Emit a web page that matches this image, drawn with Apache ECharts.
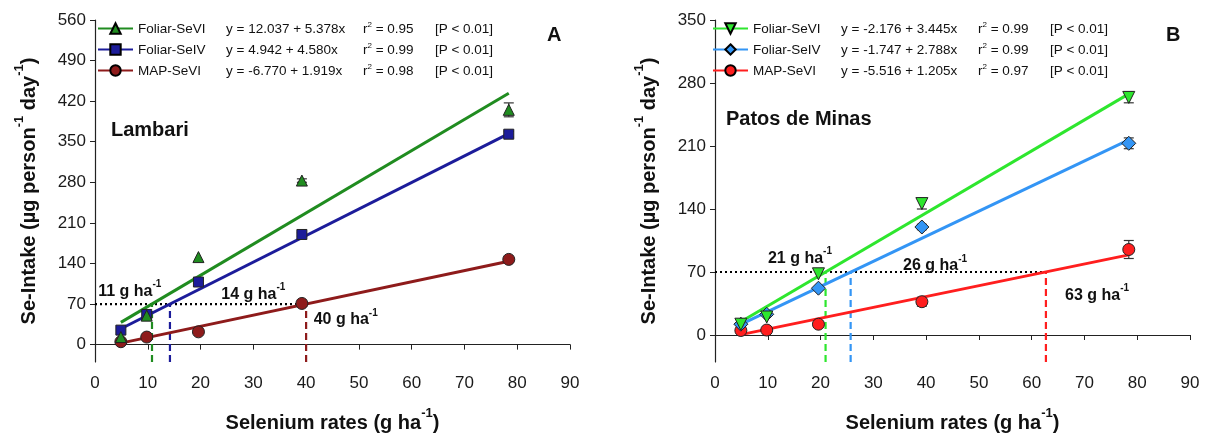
<!DOCTYPE html>
<html>
<head>
<meta charset="utf-8">
<script src="https://cdn.jsdelivr.net/npm/echarts@6/dist/echarts.min.js"></script>
<style>html,body{margin:0;padding:0;background:#fff;}#c{width:1214px;height:439px;}</style>
</head>
<body>
<div id="c"></div>
<script>
// ---------- DATA ----------
const rates = [4.9, 9.8, 19.6, 39.2, 78.4];
const xTicks = [0, 10, 20, 30, 40, 50, 60, 70, 80, 90];
const yTicksA = [0, 70, 140, 210, 280, 350, 420, 490, 560];
const yTicksB = [0, 70, 140, 210, 280, 350];

// Panel A - Lambari
const lamFoliarSeVI = [13, 50, 151, 283, 405];
const lamFoliarSeVIErr = [0, 0, 0, 3, 12];
const lamFoliarSeIV = [25, 52, 108, 190, 363];
const lamFoliarSeIVErr = [0, 0, 3, 3, 5];
const lamMapSeVI = [5, 13, 22, 71, 147];
const lamMapSeVIErr = [0, 0, 0, 3, 0];
const lamFitFoliarSeVI = [[4.9, 38.4], [78.4, 433.7]];
const lamFitFoliarSeIV = [[4.9, 27.4], [78.4, 364.0]];
const lamFitMapSeVI = [[4.9, 2.6], [78.4, 143.7]];
const lamThresholdRates = [10.8, 14.2, 40.0];
const lamThresholdLabels = ['11', '14', '40'];
const lamEquations = ['y = 12.037 + 5.378x', 'y = 4.942 + 4.580x', 'y = -6.770 + 1.919x'];
const lamR2 = ['0.95', '0.99', '0.98'];

// Panel B - Patos de Minas
const patFoliarSeVI = [12, 20, 68, 146, 264];
const patFoliarSeVIErr = [0, 0, 0, 6, 6];
const patFoliarSeIV = [12, 23, 52, 120, 213];
const patFoliarSeIVErr = [0, 0, 0, 3, 6];
const patMapSeVI = [5, 5.5, 12, 37, 95];
const patMapSeVIErr = [0, 0, 0, 5, 10];
const patFitFoliarSeVI = [[4.9, 14.7], [78.4, 267.9]];
const patFitFoliarSeIV = [[4.9, 11.9], [78.4, 216.8]];
const patFitMapSeVI = [[4.9, 0.4], [78.4, 89.0]];
const patThresholdRates = [20.95, 25.7, 62.7];
const patThresholdLabels = ['21', '26', '63'];
const patEquations = ['y = -2.176 + 3.445x', 'y = -1.747 + 2.788x', 'y = -5.516 + 1.205x'];
const patR2 = ['0.99', '0.99', '0.97'];

const seriesNames = ['Foliar-SeVI', 'Foliar-SeIV', 'MAP-SeVI'];
const threshold = 70;
const yMin = -30;

// ---------- STYLE / LAYOUT ----------
const FONT = '"Liberation Sans", Arial, sans-serif';
const colA = ['#208C20', '#1C1C9A', '#8E1B1B'];
const colB = ['#2EE62E', '#3395F5', '#FF1E1E'];
const symA = [['triangle', 0, 11], ['rect', 0, 10], ['circle', 0, 12]];
const symB = [['triangle', 180, 12], ['diamond', 0, 14], ['circle', 0, 12]];
// annotation anchor positions in data units [x, y]
const annoPosA = [[6.6, 95], [30, 90], [47.5, 46]];
const annoPosB = [[16.1, 87], [41.7, 79], [72.4, 46]];

const supRich = {
  b: {fontFamily: FONT, fontSize: 16, fontWeight: 'bold', color: '#111', lineHeight: 20, verticalAlign: 'bottom'},
  s: {fontFamily: FONT, fontSize: 10, fontWeight: 'bold', color: '#111', lineHeight: 11, verticalAlign: 'top'}
};
const titleRich = {
  t: {fontFamily: FONT, fontSize: 20, fontWeight: 'bold', color: '#111', lineHeight: 26, verticalAlign: 'bottom'},
  s: {fontFamily: FONT, fontSize: 13, fontWeight: 'bold', color: '#111', lineHeight: 13, verticalAlign: 'top'}
};

function legendFormatter(equations, r2) {
  return function (name) {
    const i = seriesNames.indexOf(name.split('|')[1]);
    return '{n|' + seriesNames[i] + '}{e|' + equations[i] + '}{r|r}{s|2}{q| = ' + r2[i] + '}{p|[P < 0.01]}';
  };
}
const legendRich = {
  n: {fontFamily: FONT, fontSize: 13.5, color: '#111', width: 88, lineHeight: 15, verticalAlign: 'bottom'},
  e: {fontFamily: FONT, fontSize: 13.5, color: '#111', width: 137, lineHeight: 15, verticalAlign: 'bottom'},
  r: {fontFamily: FONT, fontSize: 13.5, color: '#111', lineHeight: 15, verticalAlign: 'bottom'},
  s: {fontFamily: FONT, fontSize: 8, color: '#111', lineHeight: 9, verticalAlign: 'top'},
  q: {fontFamily: FONT, fontSize: 13.5, color: '#111', width: 63, lineHeight: 15, verticalAlign: 'bottom'},
  p: {fontFamily: FONT, fontSize: 13.5, color: '#111', lineHeight: 15, verticalAlign: 'bottom'}
};

function xAxis(gi) {
  return {
    type: 'value', gridIndex: gi, min: 0, max: 90, interval: 10,
    name: '{t|Selenium rates (g ha}{s|-1}{t|)}', nameLocation: 'middle', nameGap: 45,
    nameTextStyle: {rich: titleRich},
    axisLine: {show: true, lineStyle: {color: '#222', width: 1.2}},
    axisTick: {show: true, length: 5, lineStyle: {color: '#222'}},
    axisLabel: {fontFamily: FONT, fontSize: 17, color: '#1a1a1a', margin: 13,
      customValues: xTicks},
    splitLine: {show: false}
  };
}
function yAxis(gi, max, ticks) {
  return {
    type: 'value', gridIndex: gi, min: yMin, max: max,
    name: '{t|Se-Intake (µg person}{s|-1}{t| day}{s|-1}{t|)}', nameLocation: 'middle', nameGap: 56,
    nameRotate: 90,
    nameTextStyle: {rich: titleRich},
    axisLine: {show: true, onZero: false, lineStyle: {color: '#222', width: 1.2}},
    axisTick: {show: true, length: 5, lineStyle: {color: '#222'}, customValues: ticks},
    axisLabel: {fontFamily: FONT, fontSize: 17, color: '#1a1a1a', margin: 9, customValues: ticks},
    splitLine: {show: false}
  };
}

function fitSeries(gi, prefix, idx, data, color, sym) {
  return {
    type: 'line', name: prefix + '|' + seriesNames[idx], xAxisIndex: gi, yAxisIndex: gi,
    data: data, showSymbol: false, symbol: sym[0], symbolRotate: sym[1],
    lineStyle: {color: color, width: 3}, itemStyle: {color: color, borderColor: '#000', borderWidth: 1},
    silent: true, z: 3, animation: false
  };
}
function pointSeries(gi, vals, color, sym) {
  return {
    type: 'scatter', xAxisIndex: gi, yAxisIndex: gi,
    data: rates.map((x, i) => [x, vals[i]]),
    symbol: sym[0], symbolRotate: sym[1], symbolSize: sym[2],
    itemStyle: {color: color, borderColor: '#222', borderWidth: 1, opacity: 1},
    silent: true, z: 4, animation: false
  };
}
function errSeries(gi, vals, errs) {
  return {
    type: 'custom', xAxisIndex: gi, yAxisIndex: gi,
    data: rates.map((x, i) => [x, vals[i], errs[i]]),
    renderItem: function (params, api) {
      const e = api.value(2);
      if (!e) return null;
      const x = api.value(0), y = api.value(1);
      const t = api.coord([x, y + e]), b = api.coord([x, y - e]);
      const w = 5;
      const st = {stroke: '#333', lineWidth: 1.2};
      return {type: 'group', children: [
        {type: 'line', shape: {x1: t[0], y1: t[1], x2: b[0], y2: b[1]}, style: st},
        {type: 'line', shape: {x1: t[0] - w, y1: t[1], x2: t[0] + w, y2: t[1]}, style: st},
        {type: 'line', shape: {x1: b[0] - w, y1: b[1], x2: b[0] + w, y2: b[1]}, style: st}
      ]};
    },
    silent: true, z: 3, animation: false
  };
}
function thresholdSeries(gi, xs, colors) {
  const out = [];
  out.push({
    type: 'line', xAxisIndex: gi, yAxisIndex: gi, data: [[0, threshold], [Math.max(...xs), threshold]],
    showSymbol: false, lineStyle: {color: '#000', width: 2.2, type: [2, 3]}, silent: true, z: 2, animation: false
  });
  xs.forEach((x, i) => {
    out.push({
      type: 'line', xAxisIndex: gi, yAxisIndex: gi, data: [[x, yMin], [x, threshold]],
      showSymbol: false, lineStyle: {color: colors[i], width: 2.2, type: [7, 4]}, silent: true, z: 2, animation: false
    });
  });
  return out;
}
function annoSeries(gi, pos, labels) {
  return {
    type: 'scatter', xAxisIndex: gi, yAxisIndex: gi,
    data: pos.map((p, i) => ({value: p, lab: labels[i]})),
    symbolSize: 0, itemStyle: {color: '#000', opacity: 1},
    label: {show: true, position: 'inside', color: '#111', opacity: 1, textBorderWidth: 0,
      formatter: p => '{b|' + p.data.lab + ' g ha}{s|-1}', rich: supRich},
    silent: true, z: 6, animation: false
  };
}

const series = [];
[0, 1, 2].forEach(i => {
  series.push(fitSeries(0, 'A', i, [lamFitFoliarSeVI, lamFitFoliarSeIV, lamFitMapSeVI][i], colA[i], symA[i]));
  series.push(fitSeries(1, 'B', i, [patFitFoliarSeVI, patFitFoliarSeIV, patFitMapSeVI][i], colB[i], symB[i]));
});
series.push(...thresholdSeries(0, lamThresholdRates, colA));
series.push(...thresholdSeries(1, patThresholdRates, colB));
const valsA = [lamFoliarSeVI, lamFoliarSeIV, lamMapSeVI], errA = [lamFoliarSeVIErr, lamFoliarSeIVErr, lamMapSeVIErr];
const valsB = [patFoliarSeVI, patFoliarSeIV, patMapSeVI], errB = [patFoliarSeVIErr, patFoliarSeIVErr, patMapSeVIErr];
[2, 1, 0].forEach(i => {
  series.push(errSeries(0, valsA[i], errA[i]));
  series.push(pointSeries(0, valsA[i], colA[i], symA[i]));
  series.push(errSeries(1, valsB[i], errB[i]));
  series.push(pointSeries(1, valsB[i], colB[i], symB[i]));
});
series.push(annoSeries(0, annoPosA, lamThresholdLabels));
series.push(annoSeries(1, annoPosB, patThresholdLabels));

const chart = echarts.init(document.getElementById('c'), null, {renderer: 'canvas'});
chart.setOption({
  animation: false,
  backgroundColor: '#fff',
  textStyle: {fontFamily: FONT},
  grid: [
    {left: 95, top: 20, width: 475, height: 342},
    {left: 715, top: 20, width: 475, height: 342}
  ],
  xAxis: [xAxis(0), xAxis(1)],
  yAxis: [yAxis(0, 560, yTicksA), yAxis(1, 350, yTicksB)],
  title: [
    {text: 'A', left: 542, top: 20, textStyle: {fontFamily: FONT, fontSize: 20, fontWeight: 'bold', color: '#111'}},
    {text: 'B', left: 1161, top: 20, textStyle: {fontFamily: FONT, fontSize: 20, fontWeight: 'bold', color: '#111'}},
    {text: 'Lambari', left: 106, top: 115, textStyle: {fontFamily: FONT, fontSize: 20, fontWeight: 'bold', color: '#111'}},
    {text: 'Patos de Minas', left: 721, top: 104, textStyle: {fontFamily: FONT, fontSize: 20, fontWeight: 'bold', color: '#111'}}
  ],
  legend: [
    {orient: 'vertical', left: 97, top: 21, padding: 0, itemWidth: 35, itemHeight: 13, itemGap: 6,
      data: seriesNames.map(n => 'A|' + n), formatter: legendFormatter(lamEquations, lamR2),
      textStyle: {rich: legendRich}, selectedMode: false},
    {orient: 'vertical', left: 712, top: 21, padding: 0, itemWidth: 35, itemHeight: 13, itemGap: 6,
      data: seriesNames.map(n => 'B|' + n), formatter: legendFormatter(patEquations, patR2),
      textStyle: {rich: legendRich}, selectedMode: false}
  ],
  series: series
});
</script>
</body>
</html>
